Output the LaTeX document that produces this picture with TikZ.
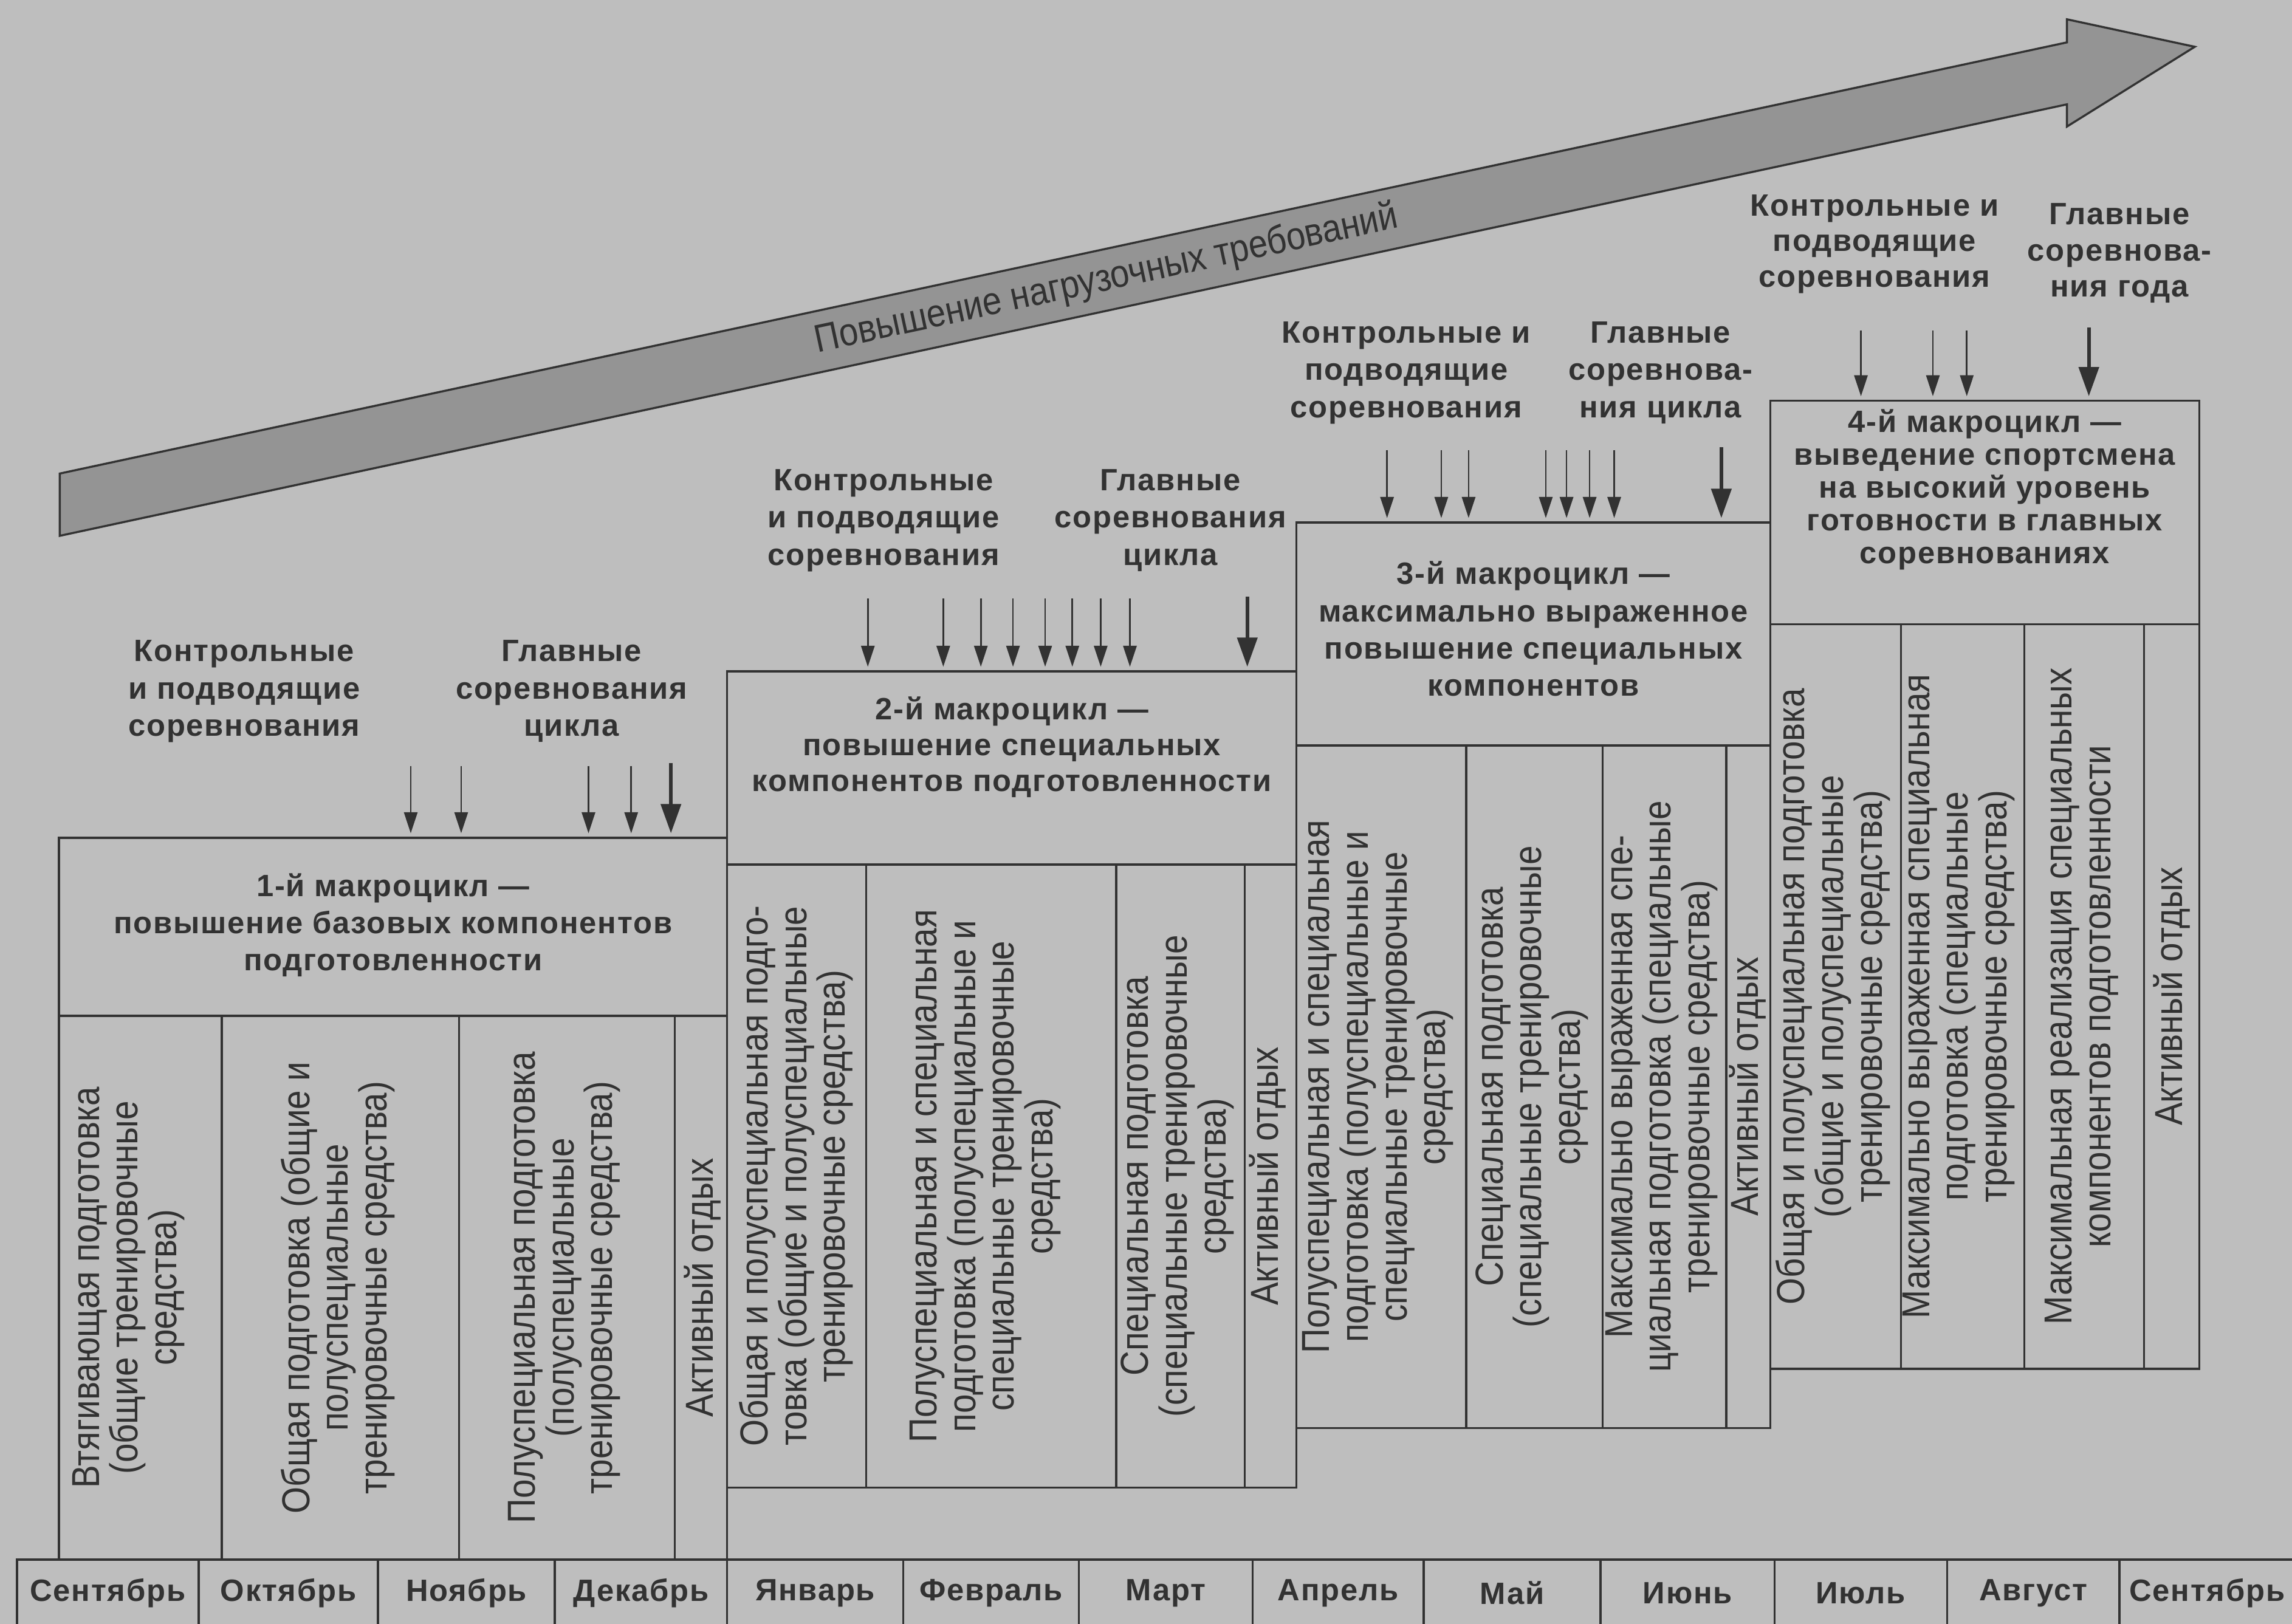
\documentclass[tikz,border=0pt]{standalone}
\usepackage{fontspec}
\setmainfont{Liberation Sans}
\newfontfamily\lblfont[LetterSpace=3.5]{Liberation Sans}
\newfontfamily\colfont[FakeStretch=0.88]{Liberation Sans}
\usetikzlibrary{fit,arrows.meta}
\definecolor{bg}{RGB}{190,190,190}
\definecolor{ink}{RGB}{50,50,50}
\definecolor{arrowfill}{RGB}{148,148,148}
\begin{document}
\begin{tikzpicture}[x=0.25mm,y=-0.25mm,
  cellbox/.style={draw=ink,line width=1pt,inner sep=0pt},
  lbl/.style={font=\lblfont\bfseries\fontsize{15}{18.2}\selectfont,align=center,text=ink,inner sep=0pt},
  hdr/.style={font=\lblfont\bfseries\fontsize{15}{18.1}\selectfont,align=center,text=ink,inner sep=0pt},
  coltext/.style={rotate=90,font=\colfont\fontsize{19}{18.8}\selectfont,align=center,text=ink,inner sep=0pt},
  monthtext/.style={font=\lblfont\bfseries\fontsize{15}{18}\selectfont,text=ink,inner sep=0pt},
  comp/.style={draw=ink,line width=0.8pt,-{Triangle[length=3.6mm,width=2.3mm]},shorten >=0.6mm},
  compmain/.style={draw=ink,line width=1.7pt,-{Triangle[length=5mm,width=3.4mm]},shorten >=0.6mm}
]
\clip (0,0) rectangle (1568,1111);
\fill[bg] (0,0) rectangle (1568,1111);

% big trend arrow
\coordinate (ar1) at (40.9,324);
\coordinate (ar2) at (1414,29);
\coordinate (ar3) at (1414,13.2);
\coordinate (ar4) at (1501.5,32);
\coordinate (ar5) at (1414,86.6);
\coordinate (ar6) at (1414,71.4);
\coordinate (ar7) at (40.9,366.6);
\draw[ink,fill=arrowfill,line width=1pt,line join=miter]
  (ar1) -- (ar2) -- (ar3) -- (ar4) -- (ar5) -- (ar6) -- (ar7) -- cycle;
\node[coltext,rotate=-90+12.13] (trend) at (757,191.4) {Повышение нагрузочных требований};

% ===== Macrocycle 1 =====
\node[cellbox,fit={(40.4,573.2) (497.5,695)}] (h1) {};
\node[cellbox,fit={(40.4,695) (151.8,1067)}] (c11) {};
\node[cellbox,fit={(151.8,695) (314,1067)}] (c12) {};
\node[cellbox,fit={(314,695) (461.6,1067)}] (c13) {};
\node[cellbox,fit={(461.6,695) (497.5,1067)}] (c14) {};
\node[hdr] (t1) at (268.9,633) {1-й макроцикл —\\повышение базовых компонентов\\подготовленности};
\node[coltext] (x11) at (87.9,881) {Втягивающая подготовка\\(общие тренировочные\\средства)};
\node[coltext] (x12) at (231,881) {Общая подготовка (общие и\\полуспециальные\\тренировочные средства)};
\node[coltext] (x13) at (386,881) {Полуспециальная подготовка\\(полуспециальные\\тренировочные средства)};
\node[coltext] (x14) at (480.5,881) {Активный отдых};
\node[lbl] (k1) at (167,473) {Контрольные\\и подводящие\\соревнования};
\node[lbl] (g1) at (391,473) {Главные\\соревнования\\цикла};
\foreach \x [count=\i] in {281,315.5,402.6,431.8} {
  \coordinate (a1-\i) at (\x,524);
  \draw[comp] (a1-\i) -- (a1-\i |- h1.north);
}
\coordinate (a1m) at (459,522);
\draw[compmain] (a1m) -- (a1m |- h1.north);

% ===== Macrocycle 2 =====
\node[cellbox,fit={(497.5,459.3) (887,591.6)}] (h2) {};
\node[cellbox,fit={(497.5,591.6) (592.6,1017.8)}] (c21) {};
\node[cellbox,fit={(592.6,591.6) (763.6,1017.8)}] (c22) {};
\node[cellbox,fit={(763.6,591.6) (851.6,1017.8)}] (c23) {};
\node[cellbox,fit={(851.6,591.6) (887,1017.8)}] (c24) {};
\node[hdr,font=\lblfont\bfseries\fontsize{15}{17.4}\selectfont] (t2) at (692.2,511.3) {2-й макроцикл —\\повышение специальных\\компонентов подготовленности};
\node[coltext] (x21) at (544.6,804.7) {Общая и полуспециальная подго-\\товка (общие и полуспециальные\\тренировочные средства)};
\node[coltext] (x22) at (674,804.7) {Полуспециальная и специальная\\подготовка (полуспециальные и\\специальные тренировочные\\средства)};
\node[coltext] (x23) at (805.5,804.7) {Специальная подготовка\\(специальные тренировочные\\средства)};
\node[coltext] (x24) at (867,804.7) {Активный отдых};
\node[lbl] (k2) at (604.5,356) {Контрольные\\и подводящие\\соревнования};
\node[lbl] (g2) at (800.7,356) {Главные\\соревнования\\цикла};
\foreach \x [count=\i] in {593.7,645.3,671,693,715,733.6,753,773} {
  \coordinate (a2-\i) at (\x,409.5);
  \draw[comp] (a2-\i) -- (a2-\i |- h2.north);
}
\coordinate (a2m) at (853.3,408);
\draw[compmain] (a2m) -- (a2m |- h2.north);

% ===== Macrocycle 3 =====
\node[cellbox,fit={(887,357.5) (1211,510)}] (h3) {};
\node[cellbox,fit={(887,510) (1003,977)}] (c31) {};
\node[cellbox,fit={(1003,510) (1096.5,977)}] (c32) {};
\node[cellbox,fit={(1096.5,510) (1181,977)}] (c33) {};
\node[cellbox,fit={(1181,510) (1211,977)}] (c34) {};
\node[hdr] (t3) at (1049,430.3) {3-й макроцикл —\\максимально выраженное\\повышение специальных\\компонентов};
\node[coltext] (x31) at (942.7,743.5) {Полуспециальная и специальная\\подготовка (полуспециальные и\\специальные тренировочные\\средства)};
\node[coltext] (x32) at (1048,743.5) {Специальная подготовка\\(специальные тренировочные\\средства)};
\node[coltext] (x33) at (1136.6,743.5) {Максимально выраженная спе-\\циальная подготовка (специальные\\тренировочные средства)};
\node[coltext] (x34) at (1195.6,743.5) {Активный отдых};
\node[lbl] (k3) at (962,255) {Контрольные и\\подводящие\\соревнования};
\node[lbl] (g3) at (1136,255) {Главные\\соревнова-\\ния цикла};
\foreach \x [count=\i] in {948.9,986,1004.7,1057.5,1071.7,1087.5,1104.3} {
  \coordinate (a3-\i) at (\x,307.9);
  \draw[comp] (a3-\i) -- (a3-\i |- h3.north);
}
\coordinate (a3m) at (1177.6,306);
\draw[compmain] (a3m) -- (a3m |- h3.north);

% ===== Macrocycle 4 =====
\node[cellbox,fit={(1211,274.2) (1504.6,427)}] (h4) {};
\node[cellbox,fit={(1211,427) (1300.6,936.5)}] (c41) {};
\node[cellbox,fit={(1300.6,427) (1385,936.5)}] (c42) {};
\node[cellbox,fit={(1385,427) (1466.8,936.5)}] (c43) {};
\node[cellbox,fit={(1466.8,427) (1504.6,936.5)}] (c44) {};
\node[hdr,font=\lblfont\bfseries\fontsize{15}{16}\selectfont] (t4) at (1357.8,335) {4-й макроцикл —\\выведение спортсмена\\на высокий уровень\\готовности в главных\\соревнованиях};
\node[coltext] (x41) at (1254,681.7) {Общая и полуспециальная подготовка\\(общие и полуспециальные\\тренировочные средства)};
\node[coltext] (x42) at (1340,681.7) {Максимально выраженная специальная\\подготовка (специальные\\тренировочные средства)};
\node[coltext] (x43) at (1424,681.7) {Максимальная реализация специальных\\компонентов подготовленности};
\node[coltext] (x44) at (1485.7,681.7) {Активный отдых};
\node[lbl,font=\lblfont\bfseries\fontsize{15}{17.2}\selectfont] (k4) at (1282.4,167) {Контрольные и\\подводящие\\соревнования};
\node[lbl,font=\lblfont\bfseries\fontsize{15}{17.6}\selectfont] (g4) at (1450,173.3) {Главные\\соревнова-\\ния года};
\foreach \x [count=\i] in {1273.1,1322.3,1345.5} {
  \coordinate (a4-\i) at (\x,226);
  \draw[comp] (a4-\i) -- (a4-\i |- h4.north);
}
\coordinate (a4m) at (1429,224);
\draw[compmain] (a4m) -- (a4m |- h4.north);

% ===== Months =====
\foreach \a/\b/\n [count=\i] in {11.6/136/Сентябрь,136/258.6/Октябрь,258.6/379.6/Ноябрь,379.6/497.5/Декабрь,497.5/618/Январь,618/738/Февраль,738/857/Март,857/974/Апрель,974/1095/Май,1095/1214/Июнь,1214/1332/Июль,1332/1450/Август} {
  \node[cellbox,fit={(\a,1067) (\b,1113)}] (m\i) {};
  \node[monthtext] (mt\i) at (m\i.center) {\n};
}
\node[cellbox,fit={(1450,1067) (1600,1113)}] (m13) {};
\node[monthtext] (mt13) at (1510,1090) {Сентябрь};
\end{tikzpicture}
\end{document}
